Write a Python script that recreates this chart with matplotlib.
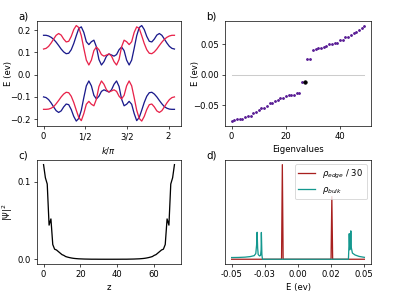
import numpy as np
import matplotlib
matplotlib.use("Agg")
import matplotlib.pyplot as plt

# ---------------- data ----------------
# panel a: band structure
k = np.linspace(0, 2.094, 53)
red_up = [0.115,0.118,0.127,0.142,0.160,0.177,0.185,0.178,0.160,0.147,0.150,0.172,0.203,0.221,0.212,0.175,0.118,0.065,0.043,0.065,0.108,0.124,0.112,0.090,0.083,0.088,0.093,0.083,0.058,0.043,0.068,0.125,0.155,0.148,0.135,0.148,0.190,0.215,0.208,0.175,0.140,0.112,0.096,0.094,0.102,0.115,0.131,0.146,0.159,0.168,0.174,0.177,0.177]
blue_up = [0.177,0.177,0.174,0.168,0.159,0.146,0.131,0.115,0.102,0.094,0.096,0.112,0.140,0.175,0.208,0.215,0.190,0.148,0.135,0.148,0.155,0.125,0.068,0.043,0.058,0.083,0.093,0.088,0.083,0.090,0.112,0.124,0.108,0.065,0.043,0.065,0.118,0.175,0.212,0.221,0.203,0.172,0.150,0.147,0.160,0.178,0.185,0.177,0.160,0.142,0.127,0.118,0.115]
blue_low = [-0.101,-0.104,-0.113,-0.128,-0.146,-0.163,-0.171,-0.164,-0.146,-0.133,-0.136,-0.158,-0.189,-0.210,-0.198,-0.161,-0.104,-0.051,-0.029,-0.051,-0.094,-0.110,-0.098,-0.076,-0.069,-0.074,-0.079,-0.069,-0.044,-0.029,-0.054,-0.111,-0.141,-0.134,-0.121,-0.134,-0.176,-0.208,-0.194,-0.161,-0.126,-0.098,-0.082,-0.080,-0.088,-0.101,-0.117,-0.132,-0.145,-0.152,-0.156,-0.157,-0.157]
red_low = [-0.157,-0.157,-0.156,-0.152,-0.145,-0.132,-0.117,-0.101,-0.088,-0.080,-0.082,-0.098,-0.126,-0.161,-0.194,-0.208,-0.176,-0.134,-0.121,-0.134,-0.141,-0.111,-0.054,-0.029,-0.044,-0.069,-0.079,-0.074,-0.069,-0.076,-0.098,-0.110,-0.094,-0.051,-0.029,-0.051,-0.104,-0.161,-0.198,-0.210,-0.189,-0.158,-0.136,-0.133,-0.146,-0.164,-0.171,-0.163,-0.146,-0.128,-0.113,-0.104,-0.101]
k_ticks = [0, 2/3, 4/3, 2]
k_ticklabels = ['0', '1/2', '3/2', '2']

# panel b: eigenvalues
eig = [-0.076,-0.075,-0.073,-0.073,-0.072,-0.070,-0.068,-0.067,-0.063,-0.061,
       -0.058,-0.055,-0.054,-0.052,-0.046,-0.046,-0.043,-0.042,-0.039,-0.038,
       -0.035,-0.034,-0.033,-0.033,-0.030,-0.030,-0.012,-0.012,0.026,0.026,
       0.040,0.0415,0.043,0.044,0.045,0.046,0.050,0.050,0.051,0.052,
       0.056,0.057,0.061,0.062,0.065,0.068,0.070,0.073,0.076,0.080]
sel_idx = 27
sel_val = -0.012

# panel c: |psi|^2
psi_left = [0.122,0.105,0.097,0.044,0.052,0.019,0.013,0.012,0.010,0.008,0.006,0.005,
            0.0035,0.0028,0.0022,0.0017,0.0013,0.0010,0.0008,0.0006,0.0005,0.0004,
            0.0003,0.00025,0.0002,0.00015,0.0001,0.0001,0.0001,0.00008,0.00006,
            0.00005,0.00005,0.00004,0.00004,0.00004]
psi_right = [0.00004,0.00004,0.00004,0.00005,0.00005,0.00006,0.00008,0.0001,0.0001,
             0.0001,0.00015,0.0002,0.00025,0.0003,0.0004,0.0005,0.0006,0.0008,0.0010,
             0.0013,0.0017,0.0022,0.0028,0.0035,0.005,0.006,0.008,0.010,0.012,0.013,
             0.019,0.052,0.044,0.097,0.105,0.122]
psi = psi_left + psi_right
z = np.arange(len(psi))

# panel d: densities of states
E_edge = [-0.05, -0.0124, -0.0118, -0.0112, 0.0249, 0.0255, 0.0261, 0.05]
rho_edge = [0, 0, 1.0, 0, 0, 0.662, 0, 0]
E_bulk = [-0.05,-0.045,-0.040,-0.036,-0.033,-0.0318,-0.0312,-0.0308,-0.0304,-0.0300,
          -0.0290,-0.0282,-0.0278,-0.0276,-0.0272,-0.0268,
          0.0380,0.0384,0.0386,0.0390,0.0394,0.0398,0.0402,0.0410,0.0430,0.0460,0.0500]
rho_bulk = [0.018,0.019,0.022,0.028,0.038,0.060,0.15,0.285,0.12,0.05,
            0.035,0.04,0.10,0.283,0.05,0.0,
            0.0,0.15,0.27,0.10,0.12,0.30,0.12,0.065,0.045,0.030,0.020]
d_ticks = [-0.05, -0.025, 0.0, 0.025, 0.05]
d_ticklabels = ['-0.05', '-0.03', '0.00', '0.02', '0.05']

# ---------------- figure ----------------
fig = plt.figure(figsize=(6.4, 4.8), dpi=395/6.4)
W, H = 395, 296
def rect(l, t, r, b):
    return [l / W, 1 - b / H, (r - l) / W, (b - t) / H]

ax_a = fig.add_axes(rect(37, 21, 181, 126))
ax_b = fig.add_axes(rect(225, 21, 371, 126))
ax_c = fig.add_axes(rect(37, 160, 181, 264))
ax_d = fig.add_axes(rect(225, 160, 371, 264))

navy = '#1a1a8c'
crim = '#e8234a'

# a
ax_a.plot(k, blue_up, color=navy, lw=1.5)
ax_a.plot(k, blue_low, color=navy, lw=1.5)
ax_a.plot(k, red_up, color=crim, lw=1.5)
ax_a.plot(k, red_low, color=crim, lw=1.5)
ax_a.set_xticks(k_ticks)
ax_a.set_xticklabels(k_ticklabels)
ax_a.set_xlabel(r'$k/\pi$')
ax_a.set_ylabel('E (ev)')
ax_a.yaxis.set_label_coords(-0.165, 0.5)

# b
idx = np.arange(len(eig))
ax_b.plot([idx[0], idx[-1]], [0, 0], color='#cccccc', lw=1.2, zorder=1)
ax_b.plot(idx, eig, 'o', color='#5a1e96', ms=2.2, zorder=2)
ax_b.plot([sel_idx], [sel_val], 'o', color='black', ms=4, zorder=3)
ax_b.set_xlabel('Eigenvalues')
ax_b.set_ylabel('E (ev)')
ax_b.yaxis.set_label_coords(-0.17, 0.5)

# c
ax_c.plot(z, psi, color='black', lw=1.5)
ax_c.set_yticks([0.0, 0.1])
ax_c.set_yticklabels(['0.0', '0.1'])
ax_c.set_xlabel('z')
ax_c.set_ylabel(r'$|\Psi|^2$')
ax_c.yaxis.set_label_coords(-0.15, 0.5)

# d
ax_d.plot(E_edge, rho_edge, color='#a8201f', lw=1.5, label=r'$\rho_{edge}$ / 30')
ax_d.plot(E_bulk, rho_bulk, color='#14988f', lw=1.5, label=r'$\rho_{bulk}$')
ax_d.set_yticks([])
ax_d.set_xticks(d_ticks)
ax_d.set_xticklabels(d_ticklabels)
ax_d.set_xlabel('E (ev)')
ax_d.legend(loc='upper right')

for ax, lab in zip([ax_a, ax_b, ax_c, ax_d], ['a)', 'b)', 'c)', 'd)']):
    ax.text(-0.13, 0.995, lab, transform=ax.transAxes, fontsize=12,
            ha='left', va='bottom')

fig.savefig('out.png', dpi=395/6.4)
